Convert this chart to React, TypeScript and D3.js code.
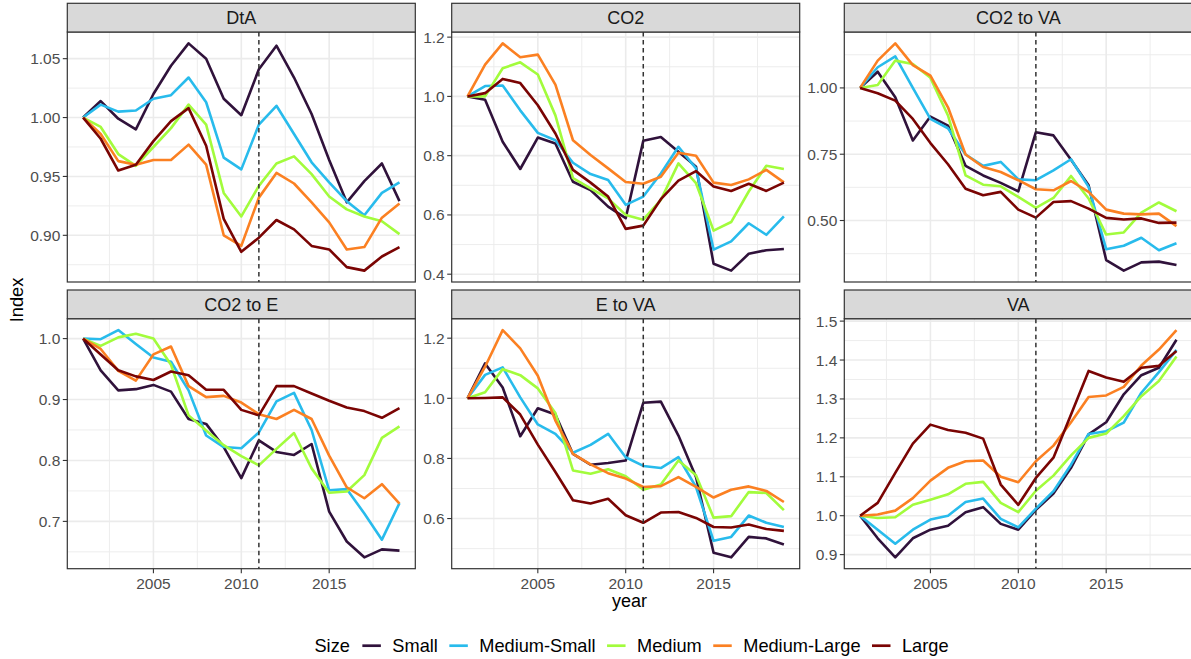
import React from 'react';
import * as d3 from 'd3';

// --- data -------------------------------------------------------------------
const years = [2001, 2002, 2003, 2004, 2005, 2006, 2007, 2008, 2009, 2010,
  2011, 2012, 2013, 2014, 2015, 2016, 2017, 2018, 2019];
const breakYear = 2011;

const sizes = ['Small', 'Medium-Small', 'Medium', 'Medium-Large', 'Large'];
const sizeColours = ['#30123B', '#28BBEC', '#A2FC3C', '#FB8022', '#7A0403'];

const facetNames = ['DtA', 'CO2', 'CO2 to VA', 'CO2 to E', 'E to VA', 'VA'];

// one row per size, same order as `sizes`
const dtaValues = [
  [1.000, 1.014, 0.999, 0.990, 1.020, 1.044, 1.063, 1.050, 1.016, 1.002, 1.041, 1.061, 1.034, 1.003, 0.964, 0.928, 0.946, 0.961, 0.929],
  [1.000, 1.011, 1.005, 1.006, 1.016, 1.019, 1.034, 1.013, 0.966, 0.956, 0.994, 1.010, 0.986, 0.962, 0.945, 0.929, 0.917, 0.936, 0.945],
  [1.000, 0.992, 0.969, 0.959, 0.975, 0.991, 1.011, 0.994, 0.936, 0.916, 0.942, 0.961, 0.967, 0.952, 0.933, 0.922, 0.916, 0.912, 0.901],
  [1.000, 0.986, 0.963, 0.960, 0.964, 0.964, 0.977, 0.960, 0.900, 0.891, 0.932, 0.953, 0.944, 0.928, 0.911, 0.888, 0.890, 0.915, 0.927],
  [1.000, 0.982, 0.955, 0.960, 0.980, 0.997, 1.008, 0.976, 0.914, 0.886, 0.898, 0.913, 0.905, 0.891, 0.888, 0.873, 0.870, 0.882, 0.890],
];
const co2Values = [
  [1.000, 0.989, 0.847, 0.755, 0.861, 0.841, 0.712, 0.684, 0.628, 0.589, 0.850, 0.863, 0.813, 0.763, 0.435, 0.412, 0.469, 0.481, 0.485],
  [1.000, 1.035, 1.037, 0.953, 0.877, 0.852, 0.776, 0.738, 0.718, 0.634, 0.662, 0.740, 0.830, 0.757, 0.483, 0.511, 0.572, 0.533, 0.595],
  [1.000, 1.000, 1.095, 1.115, 1.074, 0.936, 0.724, 0.690, 0.656, 0.600, 0.584, 0.651, 0.774, 0.707, 0.547, 0.576, 0.679, 0.766, 0.755],
  [1.000, 1.107, 1.179, 1.132, 1.141, 1.040, 0.852, 0.802, 0.757, 0.711, 0.705, 0.729, 0.810, 0.800, 0.709, 0.701, 0.720, 0.752, 0.710],
  [1.000, 1.011, 1.059, 1.045, 0.970, 0.875, 0.752, 0.709, 0.662, 0.553, 0.564, 0.653, 0.716, 0.748, 0.696, 0.681, 0.705, 0.681, 0.709],
];
const co2VaValues = [
  [1.000, 1.061, 0.965, 0.802, 0.892, 0.858, 0.706, 0.670, 0.642, 0.610, 0.833, 0.821, 0.729, 0.633, 0.351, 0.311, 0.342, 0.345, 0.332],
  [1.000, 1.078, 1.119, 1.000, 0.883, 0.848, 0.749, 0.706, 0.721, 0.655, 0.652, 0.689, 0.731, 0.627, 0.392, 0.405, 0.435, 0.388, 0.414],
  [1.000, 1.011, 1.103, 1.090, 1.038, 0.896, 0.670, 0.635, 0.629, 0.589, 0.548, 0.585, 0.668, 0.583, 0.447, 0.455, 0.530, 0.568, 0.535],
  [1.000, 1.103, 1.168, 1.086, 1.046, 0.927, 0.749, 0.702, 0.683, 0.652, 0.618, 0.614, 0.649, 0.608, 0.541, 0.526, 0.523, 0.526, 0.479],
  [1.000, 0.980, 0.952, 0.883, 0.792, 0.712, 0.620, 0.595, 0.608, 0.541, 0.511, 0.570, 0.573, 0.545, 0.510, 0.504, 0.508, 0.491, 0.492],
];
const co2EValues = [
  [1.000, 0.948, 0.915, 0.917, 0.924, 0.913, 0.868, 0.860, 0.822, 0.771, 0.833, 0.814, 0.809, 0.827, 0.716, 0.667, 0.641, 0.654, 0.652],
  [1.000, 0.999, 1.014, 0.991, 0.969, 0.962, 0.915, 0.841, 0.822, 0.820, 0.846, 0.897, 0.911, 0.850, 0.751, 0.753, 0.713, 0.670, 0.730],
  [1.000, 0.988, 1.002, 1.008, 1.000, 0.957, 0.874, 0.849, 0.825, 0.807, 0.792, 0.819, 0.845, 0.787, 0.747, 0.749, 0.776, 0.837, 0.856],
  [1.000, 0.983, 0.947, 0.931, 0.974, 0.987, 0.922, 0.904, 0.906, 0.895, 0.876, 0.868, 0.883, 0.868, 0.808, 0.756, 0.738, 0.761, 0.729],
  [1.000, 0.974, 0.948, 0.938, 0.932, 0.946, 0.940, 0.916, 0.916, 0.883, 0.874, 0.922, 0.922, 0.910, 0.898, 0.887, 0.881, 0.870, 0.886],
];
const eVaValues = [
  [1.000, 1.116, 1.036, 0.874, 0.967, 0.946, 0.815, 0.779, 0.785, 0.793, 0.985, 0.989, 0.876, 0.738, 0.486, 0.471, 0.539, 0.534, 0.514],
  [1.000, 1.078, 1.103, 1.003, 0.913, 0.882, 0.819, 0.845, 0.882, 0.804, 0.775, 0.768, 0.804, 0.705, 0.526, 0.539, 0.610, 0.586, 0.572],
  [1.000, 1.020, 1.097, 1.077, 1.033, 0.951, 0.760, 0.749, 0.764, 0.741, 0.696, 0.713, 0.793, 0.744, 0.603, 0.608, 0.688, 0.685, 0.628],
  [1.000, 1.105, 1.227, 1.166, 1.075, 0.926, 0.815, 0.780, 0.751, 0.733, 0.705, 0.708, 0.738, 0.705, 0.670, 0.696, 0.707, 0.692, 0.655],
  [1.000, 1.001, 1.003, 0.946, 0.846, 0.755, 0.661, 0.650, 0.666, 0.611, 0.586, 0.620, 0.622, 0.602, 0.572, 0.570, 0.580, 0.565, 0.559],
];
const vaValues = [
  [1.000, 0.942, 0.893, 0.942, 0.964, 0.974, 1.009, 1.022, 0.979, 0.964, 1.015, 1.057, 1.123, 1.209, 1.240, 1.312, 1.361, 1.380, 1.452],
  [1.000, 0.964, 0.928, 0.964, 0.990, 1.000, 1.035, 1.044, 0.992, 0.970, 1.018, 1.063, 1.131, 1.210, 1.217, 1.239, 1.316, 1.369, 1.426],
  [1.000, 0.994, 0.996, 1.028, 1.041, 1.055, 1.082, 1.087, 1.033, 1.009, 1.064, 1.103, 1.155, 1.200, 1.211, 1.256, 1.307, 1.346, 1.409],
  [1.000, 1.003, 1.013, 1.045, 1.090, 1.123, 1.140, 1.142, 1.100, 1.086, 1.140, 1.180, 1.240, 1.305, 1.309, 1.331, 1.386, 1.427, 1.477],
  [1.000, 1.033, 1.110, 1.185, 1.234, 1.220, 1.213, 1.198, 1.080, 1.028, 1.097, 1.149, 1.260, 1.372, 1.355, 1.344, 1.380, 1.385, 1.423],
];

const dtaTickLabels = ['0.90', '0.95', '1.00', '1.05'];
const co2TickLabels = ['0.4', '0.6', '0.8', '1.0', '1.2'];
const co2VaTickLabels = ['0.50', '0.75', '1.00'];
const co2ETickLabels = ['0.7', '0.8', '0.9', '1.0'];
const eVaTickLabels = ['0.6', '0.8', '1.0', '1.2'];
const vaTickLabels = ['0.9', '1.0', '1.1', '1.2', '1.3', '1.4', '1.5'];
const xTickLabels = ['2005', '2010', '2015'];

const facetValues = [dtaValues, co2Values, co2VaValues, co2EValues, eVaValues, vaValues];
const facetTicks = [dtaTickLabels, co2TickLabels, co2VaTickLabels, co2ETickLabels, eVaTickLabels, vaTickLabels];

// --- layout -----------------------------------------------------------------
const W = 1191;
const H = 659;
const FONT = '"Liberation Sans", Arial, Helvetica, sans-serif';
const colLeft = [67.3, 451.7, 844.3];
const panelW = 348;
const stripTop = [3.3, 290];
const stripH = 28.7;
const panelH = 250;
const tickLen = 4.5;

function minorBreaks(major: number[], domain: number[]) {
  const step = major[1] - major[0];
  const out: number[] = [];
  const ext = [major[0] - step, ...major, major[major.length - 1] + step];
  for (let i = 0; i < ext.length - 1; i++) out.push((ext[i] + ext[i + 1]) / 2);
  return out.filter(v => v >= domain[0] && v <= domain[1]);
}

function Panel({ idx }: { idx: number }) {
  const col = idx % 3;
  const row = Math.floor(idx / 3);
  const left = colLeft[col];
  const sTop = stripTop[row];
  const top = sTop + stripH;
  const bottom = top + panelH;
  const right = left + panelW;
  const values = facetValues[idx];
  const tickLabels = facetTicks[idx];

  const span = years[years.length - 1] - years[0];
  const x = d3.scaleLinear()
    .domain([years[0] - 0.05 * span, years[years.length - 1] + 0.05 * span])
    .range([left, right]);
  const [lo, hi] = d3.extent(values.flat()) as [number, number];
  const pad = (hi - lo) * 0.05;
  const y = d3.scaleLinear().domain([lo - pad, hi + pad]).range([bottom, top]);

  const xMajor = xTickLabels.map(Number);
  const xMinor = minorBreaks(xMajor, x.domain());
  const yMajor = tickLabels.map(Number);
  const yMinor = minorBreaks(yMajor, y.domain());

  const line = d3.line<number>()
    .x((_, i) => x(years[i]))
    .y(d => y(d));

  return (
    <g>
      <rect x={left} y={top} width={panelW} height={panelH} fill="#fff" />
      {yMinor.map(v => (
        <line key={'ym' + v} x1={left} x2={right} y1={y(v)} y2={y(v)} stroke="#ebebeb" strokeWidth={0.9} />
      ))}
      {xMinor.map(v => (
        <line key={'xm' + v} x1={x(v)} x2={x(v)} y1={top} y2={bottom} stroke="#ebebeb" strokeWidth={0.9} />
      ))}
      {yMajor.map(v => (
        <line key={'yM' + v} x1={left} x2={right} y1={y(v)} y2={y(v)} stroke="#ebebeb" strokeWidth={1.6} />
      ))}
      {xMajor.map(v => (
        <line key={'xM' + v} x1={x(v)} x2={x(v)} y1={top} y2={bottom} stroke="#ebebeb" strokeWidth={1.6} />
      ))}
      {values.map((s, i) => (
        <path key={sizes[i]} d={line(s) || ''} fill="none" stroke={sizeColours[i]} strokeWidth={2.6}
          strokeLinejoin="round" strokeLinecap="butt" />
      ))}
      <line x1={x(breakYear)} x2={x(breakYear)} y1={top} y2={bottom} stroke="#333" strokeWidth={1.5}
        strokeDasharray="4.5,3.5" />
      <rect x={left} y={top} width={panelW} height={panelH} fill="none" stroke="#333" strokeWidth={1.2} />
      {/* strip */}
      <rect x={left} y={sTop} width={panelW} height={stripH} fill="#d9d9d9" stroke="#333" strokeWidth={1.2} />
      <text x={(left + right) / 2} y={sTop + 21} textAnchor="middle" fontSize={18} fill="#1a1a1a">
        {facetNames[idx]}
      </text>
      {/* y axis */}
      {yMajor.map((v, i) => (
        <g key={'yt' + v}>
          <line x1={left - tickLen} x2={left} y1={y(v)} y2={y(v)} stroke="#333" strokeWidth={1.1} />
          <text x={left - tickLen - 2.5} y={y(v) + 5.5} textAnchor="end" fontSize={15.5} fill="#4d4d4d">
            {tickLabels[i]}
          </text>
        </g>
      ))}
      {/* x axis, bottom row only */}
      {row === 1 && xMajor.map((v, i) => (
        <g key={'xt' + v}>
          <line x1={x(v)} x2={x(v)} y1={bottom} y2={bottom + tickLen} stroke="#333" strokeWidth={1.1} />
          <text x={x(v)} y={bottom + 20} textAnchor="middle" fontSize={15.5} fill="#4d4d4d">
            {xTickLabels[i]}
          </text>
        </g>
      ))}
    </g>
  );
}

function Legend() {
  const fs = 18.2;
  const ctx = document.createElement('canvas').getContext('2d');
  const measure = (s: string) => {
    if (!ctx) return s.length * fs * 0.55;
    ctx.font = `${fs}px ${FONT}`;
    return ctx.measureText(s).width;
  };
  const titleW = measure('Size');
  const keyW = 18.5;
  const items = sizes.map(s => measure(s));
  const total = titleW + 12.5 + items.reduce((a, w) => a + keyW + 11.5 + w, 0) + 11.5 * (items.length - 1);
  const centre = 631.5;
  let cx = centre - total / 2;
  const title = <text x={cx} y={651.7} fontSize={fs} fill="#000">Size</text>;
  cx += titleW + 12.5;
  const parts = sizes.map((s, i) => {
    const kx = cx;
    const tx = kx + keyW + 11.5;
    cx = tx + items[i] + 11.5;
    return (
      <g key={s}>
        <line x1={kx} x2={kx + keyW} y1={645.7} y2={645.7} stroke={sizeColours[i]} strokeWidth={2.7} />
        <text x={tx} y={651.7} fontSize={fs} fill="#000">{s}</text>
      </g>
    );
  });
  return <g>{title}{parts}</g>;
}

export default function App() {
  return (
    <svg width={W} height={H} viewBox={`0 0 ${W} ${H}`}
      style={{ position: 'absolute', left: 0, top: 0, background: '#fff', fontFamily: FONT }}>
      <rect width={W} height={H} fill="#fff" />
      {facetNames.map((_, i) => <Panel key={i} idx={i} />)}
      <text transform="translate(23.3,300) rotate(-90)" textAnchor="middle" fontSize={18.2} fill="#000">Index</text>
      <text x={629.5} y={606.5} textAnchor="middle" fontSize={18} fill="#000">year</text>
      <Legend />
    </svg>
  );
}
